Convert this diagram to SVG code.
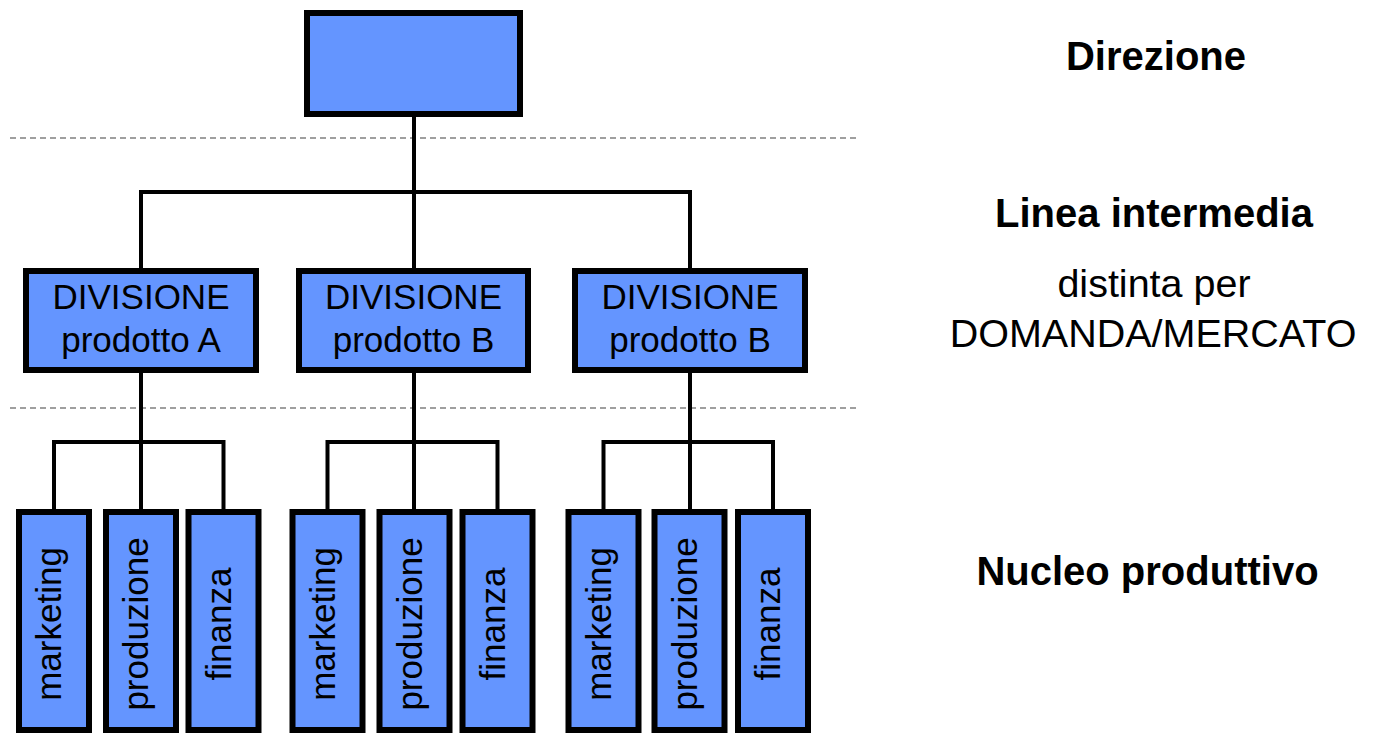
<svg xmlns="http://www.w3.org/2000/svg" width="1380" height="735" viewBox="0 0 1380 735">
<style>
.box{fill:#6495ff;stroke:#000;stroke-width:6}
.con{fill:none;stroke:#000;stroke-width:4}
.dash{fill:none;stroke:#808080;stroke-width:1.5;stroke-dasharray:6 4}
.t{font-family:"Liberation Sans",Arial,sans-serif;fill:#000;text-anchor:middle}
.div{font-size:35px}
.v{font-size:35px}
.lbl{font-size:40px;font-weight:bold}
.sub{font-size:39.5px}
</style>
<rect width="1380" height="735" fill="#fff"/>
<g id="guides">
<line class="dash" x1="10" y1="138" x2="860" y2="138"/>
<line class="dash" x1="10" y1="408" x2="860" y2="408"/>
</g>
<g id="connectors">
<path class="con" d="M414,117 V270"/>
<path class="con" d="M141,270 V192 H690 V270"/>
<path class="con" d="M141,372 V510"/>
<path class="con" d="M54,510 V442 H223.5 V510"/>
<path class="con" d="M414,372 V510"/>
<path class="con" d="M327.5,510 V442 H497.5 V510"/>
<path class="con" d="M690,372 V510"/>
<path class="con" d="M603.5,510 V442 H773 V510"/>
</g>
<g id="direzione"><rect class="box" x="307" y="13" width="213" height="101"/></g>
<g id="div-a"><rect class="box" x="26" y="271" width="230" height="99"/>
<text class="t div" x="141" y="309">DIVISIONE</text><text class="t div" x="141" y="352">prodotto A</text></g>
<g id="div-b1"><rect class="box" x="299" y="271" width="229" height="99"/>
<text class="t div" x="413.5" y="309">DIVISIONE</text><text class="t div" x="413.5" y="352">prodotto B</text></g>
<g id="div-b2"><rect class="box" x="575" y="271" width="230" height="99"/>
<text class="t div" x="690" y="309">DIVISIONE</text><text class="t div" x="690" y="352">prodotto B</text></g>
<g id="a-marketing"><rect class="box" x="19" y="512" width="70" height="218"/><text class="t v" transform="translate(61,624) rotate(-90)">marketing</text></g>
<g id="a-produzione"><rect class="box" x="106" y="512" width="70" height="218"/><text class="t v" transform="translate(148,624) rotate(-90)">produzione</text></g>
<g id="a-finanza"><rect class="box" x="188.5" y="512" width="70" height="218"/><text class="t v" transform="translate(230.5,624) rotate(-90)">finanza</text></g>
<g id="b-marketing"><rect class="box" x="292.5" y="512" width="70" height="218"/><text class="t v" transform="translate(334.5,624) rotate(-90)">marketing</text></g>
<g id="b-produzione"><rect class="box" x="379.5" y="512" width="70" height="218"/><text class="t v" transform="translate(421.5,624) rotate(-90)">produzione</text></g>
<g id="b-finanza"><rect class="box" x="462.5" y="512" width="70" height="218"/><text class="t v" transform="translate(504.5,624) rotate(-90)">finanza</text></g>
<g id="c-marketing"><rect class="box" x="568.5" y="512" width="70" height="218"/><text class="t v" transform="translate(610.5,624) rotate(-90)">marketing</text></g>
<g id="c-produzione"><rect class="box" x="654.5" y="512" width="70" height="218"/><text class="t v" transform="translate(696.5,624) rotate(-90)">produzione</text></g>
<g id="c-finanza"><rect class="box" x="738" y="512" width="70" height="218"/><text class="t v" transform="translate(780,624) rotate(-90)">finanza</text></g>
<g id="labels">
<text class="t lbl" x="1156" y="70">Direzione</text>
<text class="t lbl" x="1154" y="227">Linea intermedia</text>
<text class="t sub" x="1154" y="297">distinta per</text>
<text class="t sub" x="1153" y="347">DOMANDA/MERCATO</text>
<text class="t lbl" x="1147.5" y="585">Nucleo produttivo</text>
</g>
</svg>
